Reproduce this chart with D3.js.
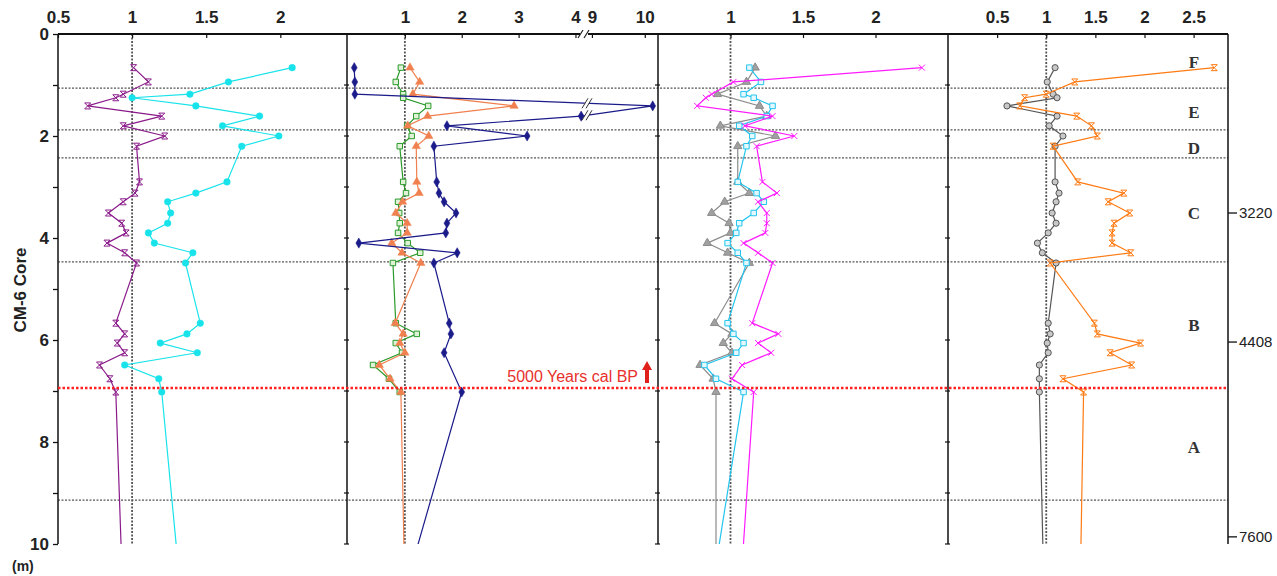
<!DOCTYPE html>
<html>
<head>
<meta charset="utf-8">
<script src="https://cdn.jsdelivr.net/npm/d3@7"></script>
<style>
  body { margin: 0; background: #fff; }
  svg { font-family: Arial, "Liberation Sans", sans-serif; }
</style>
</head>
<body>
<script>
// sample depths (m) shared by all series, last one sits below the plotted 10 m
const depths = [0.66, 0.94, 1.18, 1.25, 1.41, 1.61, 1.80, 2.00, 2.20, 2.90, 3.12, 3.29, 3.51,
  3.71, 3.90, 4.10, 4.29, 4.49, 5.67, 5.88, 6.06, 6.25, 6.49, 6.76, 7.02, 10.4];

// panel 1
const purpleVals = [1.01, 1.11, 0.94, 0.89, 0.70, 1.20, 0.94, 1.22, 1.03, 1.05, 1.02, 0.94, 0.84,
  0.93, 0.96, 0.83, 0.95, 1.03, 0.89, 0.95, 0.90, 0.95, 0.78, 0.85, 0.89, 0.93];
const cyanVals = [2.08, 1.65, 1.39, 1.00, 1.43, 1.86, 1.61, 1.99, 1.74, 1.64, 1.43, 1.24, 1.26,
  1.24, 1.11, 1.15, 1.41, 1.36, 1.46, 1.37, 1.19, 1.44, 0.95, 1.18, 1.20, 1.31];
// panel 2
const navyVals = [0.11, 0.12, 0.12, null, 10.15, 4.1, 1.74, 3.15, 1.51, 1.56, 1.60, 1.69, 1.90,
  1.74, 1.72, 0.19, 1.92, 1.51, 1.78, 1.81, null, 1.69, null, null, 2.00, 1.13];
const greenVals = [0.93, 0.84, 0.97, 0.97, 1.41, 1.20, 1.04, 1.12, 0.91, 0.97, 1.02, 0.88, 0.90,
  0.91, 0.88, 1.05, 1.27, 0.79, 0.84, 1.21, 0.84, 0.95, 0.44, 0.72, 0.91, null];
const salmonVals = [1.09, 1.26, 1.14, null, 2.92, 1.40, 1.05, 1.42, 1.20, 1.21, 1.25, 0.96, 0.84,
  1.04, 1.04, 0.77, 0.95, 1.28, 0.83, 0.97, 0.91, 1.00, 0.55, 0.74, 0.93, 0.99];
// panel 3
const magentaVals = [2.32, 1.02, 0.87, 0.83, 0.77, 1.29, 1.10, 1.44, 1.18, 1.22, 1.32, 1.19, 1.25,
  1.25, 1.24, 1.09, 1.19, 1.29, 1.15, 1.33, 1.19, 1.28, 1.08, 1.01, 1.16, 1.08];
const skyVals = [1.13, 1.21, 1.09, 1.16, 1.29, 1.25, 1.06, 1.15, 1.11, 1.05, 1.18, 1.23, 1.16,
  1.06, 1.04, 0.98, 1.05, 1.11, 0.98, 1.02, 1.09, 1.04, 0.82, 0.90, 1.09, 0.90];
const greyTriVals = [1.17, 1.11, 0.91, null, 1.20, 1.25, 0.93, 1.31, 1.05, 1.05, 1.13, 0.96, 0.87,
  0.99, 1.00, 0.84, 0.98, 1.13, 0.89, 1.01, 0.95, 1.01, 0.79, 0.88, 0.90, 0.90];
// panel 4
const orangeVals = [2.71, 1.29, 1.00, 0.78, 0.73, 1.31, 1.46, 1.52, 1.07, 1.32, 1.79, 1.63, 1.85,
  1.69, 1.67, 1.67, 1.86, 1.04, 1.49, 1.52, 1.96, 1.65, 1.87, 1.17, 1.38, 1.35];
const greyCircVals = [1.09, 1.01, 1.07, 1.11, 0.60, 1.11, 1.03, 1.17, 1.09, 1.09, 1.13, 1.10, 1.06,
  1.10, 1.02, 0.91, 0.96, 1.10, 1.02, 1.04, 1.01, 1.02, 0.93, 0.93, 0.93, 0.97];

// top axis tick labels per panel
const ticks1 = [0.5, 1, 1.5, 2];
const ticks2 = [1, 2, 3, 4, 9, 10];
const ticks3 = [1, 1.5, 2];
const ticks4 = [0.5, 1, 1.5, 2, 2.5];

// zones
const zoneBounds = [1.06, 1.88, 2.43, 4.47, 9.14];
const zoneNames = ['F', 'E', 'D', 'C', 'B', 'A'];
const zoneLabelDepths = [0.55, 1.53, 2.24, 3.51, 5.71, 8.1];
const markerDepth = 6.94;
const ageDepths = [3.51, 6.04, 9.86];
const ageLabels = ['3220', '4408', '7600'];

const W = 1277, H = 576;
const plotTop = 34, plotBottom = 544;
const frames = [58, 347, 658, 948, 1228];

const y = d3.scaleLinear().domain([0, 10]).range([plotTop, plotBottom]);

const panels = [
  { x: d3.scaleLinear().domain([0.5, 2.45]).range([58, 347]), left: 58, right: 347, ticks: ticks1,
    series: [
      { vals: purpleVals, color: '#8a1a8a', marker: 'bowtie' },
      { vals: cyanVals, color: '#19e3ea', marker: 'circle', fill: '#19e3ea' }
    ] },
  { x: d3.scaleLinear().domain([0, 4.15, 8.85, 10.25]).range([348, 584, 584, 658]), left: 347, right: 658, ticks: ticks2,
    series: [
      { vals: greenVals, color: '#2a9a2a', marker: 'square', fill: '#dff2d8' },
      { vals: salmonVals, color: '#f0804f', marker: 'triangle', fill: '#f0804f' },
      { vals: navyVals, color: '#1b1b8a', marker: 'diamond', fill: '#1b1b8a' }
    ] },
  { x: d3.scaleLinear().domain([0.5, 2.5]).range([658, 948]), left: 658, right: 948, ticks: ticks3,
    series: [
      { vals: greyTriVals, color: '#8c8c8c', marker: 'triangle', fill: '#a0a0a0' },
      { vals: skyVals, color: '#22c4ee', marker: 'square', fill: '#e4f8ff' },
      { vals: magentaVals, color: '#ff1aff', marker: 'cross' }
    ] },
  { x: d3.scaleLinear().domain([0, 2.85]).range([948, 1228]), left: 948, right: 1228, ticks: ticks4,
    series: [
      { vals: greyCircVals, color: '#555', marker: 'ring', fill: '#c8c8c8' },
      { vals: orangeVals, color: '#ff7a12', marker: 'bowtie' }
    ] }
];

const svg = d3.select('body').append('svg')
  .attr('width', W)
  .attr('height', H);

function markerPath (type) {
  if (type === 'circle') return d3.symbol(d3.symbolCircle, 34)();
  if (type === 'ring') return d3.symbol(d3.symbolCircle, 30)();
  if (type === 'diamond') return d3.symbol(d3.symbolDiamond, 30)();
  if (type === 'square') return d3.symbol(d3.symbolSquare, 30)();
  if (type === 'triangle') return d3.symbol(d3.symbolTriangle, 30)();
  if (type === 'cross') return 'M-3,-3L3,3M3,-3L-3,3';
  return 'M-3,-3L3,-3M-3,3L3,3M-3,-3L3,3M3,-3L-3,3';
}

// horizontal zone boundaries
svg.append('g').selectAll('line')
  .data(zoneBounds)
  .enter().append('line')
  .attr('x1', frames[0]).attr('x2', frames[4])
  .attr('y1', d => y(d)).attr('y2', d => y(d))
  .attr('stroke', '#555')
  .attr('stroke-width', 1.3)
  .attr('stroke-dasharray', '2,1.5');

// x = 1 reference lines
svg.append('g').selectAll('line')
  .data(panels)
  .enter().append('line')
  .attr('x1', p => p.x(1)).attr('x2', p => p.x(1))
  .attr('y1', plotTop).attr('y2', plotBottom)
  .attr('stroke', '#555')
  .attr('stroke-width', 1.8)
  .attr('stroke-dasharray', '2,1.5');

// series
panels.forEach((p, i) => {
  const clipId = `clip-${i}`;
  svg.append('clipPath').attr('id', clipId)
    .append('rect')
    .attr('x', p.left).attr('y', plotTop - 6)
    .attr('width', p.right - p.left).attr('height', plotBottom - plotTop + 6);

  const g = svg.append('g').attr('clip-path', `url(#${clipId})`);

  p.series.forEach(s => {
    const pts = depths.map((d, k) => ({ d: d, v: s.vals[k] })).filter(o => o.v !== null);
    const line = d3.line().x(o => p.x(o.v)).y(o => y(o.d));

    g.append('path')
      .datum(pts)
      .attr('d', line)
      .attr('fill', 'none')
      .attr('stroke', s.color)
      .attr('stroke-width', 1.2);

    g.selectAll(null)
      .data(pts.filter(o => o.d <= 10))
      .enter().append('path')
      .attr('transform', o => `translate(${p.x(o.v)},${y(o.d)})`)
      .attr('d', markerPath(s.marker))
      .attr('fill', s.fill || 'none')
      .attr('stroke', s.color)
      .attr('stroke-width', s.fill && s.fill === s.color ? 0.5 : 1);

    // scale break marks where a segment jumps across the broken axis
    if (i === 1) {
      for (let k = 1; k < pts.length; k++) {
        const a = pts[k - 1], b = pts[k];
        const lo = Math.min(a.v, b.v), hi = Math.max(a.v, b.v);
        if (lo < 4.15 && hi > 8.85) {
          const xa = p.x(a.v), xb = p.x(b.v);
          const bx = 587;
          const by = y(a.d) + (y(b.d) - y(a.d)) * (bx - xa) / (xb - xa);
          appendBreak(g, bx, by);
        }
      }
    }
  });
});

function appendBreak (g, bx, by) {
  g.append('path')
    .attr('d', `M${bx - 5},${by + 5}L${bx + 1},${by - 5}L${bx + 5},${by - 5}L${bx - 1},${by + 5}Z`)
    .attr('fill', '#fff');
  g.append('path')
    .attr('d', `M${bx - 5},${by + 5}L${bx + 1},${by - 5}M${bx - 1},${by + 5}L${bx + 5},${by - 5}`)
    .attr('stroke', '#333')
    .attr('stroke-width', 1);
}

// frames
svg.append('g').selectAll('line')
  .data(frames)
  .enter().append('line')
  .attr('x1', d => d).attr('x2', d => d)
  .attr('y1', plotTop).attr('y2', plotBottom)
  .attr('stroke', '#111')
  .attr('stroke-width', 1.5);

// small depth ticks on the inner frames
const meterTicks = d3.range(0, 11);
[frames[1], frames[2], frames[3]].forEach(fx => {
  svg.append('g').selectAll('line')
    .data(meterTicks)
    .enter().append('line')
    .attr('x1', fx - 3).attr('x2', fx + 2)
    .attr('y1', d => y(d)).attr('y2', d => y(d))
    .attr('stroke', '#111')
    .attr('stroke-width', 1.2);
});

// top axis line
svg.append('line')
  .attr('x1', frames[0]).attr('x2', frames[4])
  .attr('y1', plotTop).attr('y2', plotTop)
  .attr('stroke', '#111')
  .attr('stroke-width', 2);

// top axes
panels.forEach(p => {
  const ax = svg.append('g')
    .attr('transform', `translate(0,${plotTop})`)
    .call(d3.axisTop(p.x).tickValues(p.ticks).tickFormat(d => String(d)).tickSize(-4).tickPadding(11));
  ax.select('.domain').remove();
  ax.selectAll('.tick line').attr('stroke', '#111').attr('stroke-width', 1.2);
  ax.selectAll('text')
    .attr('font-size', 17)
    .attr('font-weight', 'bold')
    .attr('font-family', 'Arial, "Liberation Sans", sans-serif')
    .attr('fill', '#222');
});

// break on the top axis of panel 2
svg.append('rect')
  .attr('x', 580).attr('y', plotTop - 3).attr('width', 8).attr('height', 6)
  .attr('fill', '#fff');
svg.append('path')
  .attr('d', `M578,${plotTop + 4}L583,${plotTop - 4}M584,${plotTop + 4}L589,${plotTop - 4}`)
  .attr('stroke', '#222')
  .attr('stroke-width', 1.2);

// left depth axis
const left = svg.append('g')
  .attr('transform', `translate(${frames[0]},0)`)
  .call(d3.axisLeft(y).tickValues(meterTicks).tickFormat(d => d % 2 === 0 ? d : '').tickSize(5).tickPadding(4));
left.select('.domain').remove();
left.selectAll('.tick line').attr('stroke', '#111').attr('stroke-width', 1.3);
left.selectAll('text')
  .attr('font-size', 17)
  .attr('font-weight', 'bold')
  .attr('font-family', 'Arial, "Liberation Sans", sans-serif')
  .attr('fill', '#222');

// 5000 yr marker
svg.append('line')
  .attr('x1', frames[0]).attr('x2', frames[4])
  .attr('y1', y(markerDepth)).attr('y2', y(markerDepth))
  .attr('stroke', '#ff2020')
  .attr('stroke-width', 2.6)
  .attr('stroke-dasharray', '2.5,2');

svg.append('text')
  .attr('x', 638)
  .attr('y', y(markerDepth) - 6)
  .attr('text-anchor', 'end')
  .attr('font-size', 16)
  .attr('fill', '#e8302c')
  .text('5000 Years cal BP');

const ax0 = 647, ay0 = y(markerDepth) - 5;
svg.append('path')
  .attr('d', `M${ax0 - 2},${ay0}L${ax0 + 2},${ay0}L${ax0 + 2},${ay0 - 13}L${ax0 + 5},${ay0 - 13}L${ax0},${ay0 - 22}L${ax0 - 5},${ay0 - 13}L${ax0 - 2},${ay0 - 13}Z`)
  .attr('fill', '#e0201b');

// zone letters
svg.append('g').selectAll('text')
  .data(zoneNames)
  .enter().append('text')
  .attr('x', 1194)
  .attr('y', (d, k) => y(zoneLabelDepths[k]) + 6)
  .attr('text-anchor', 'middle')
  .attr('font-family', '"Liberation Serif", "DejaVu Serif", serif')
  .attr('font-weight', 'bold')
  .attr('font-size', 17)
  .attr('fill', '#333')
  .text(d => d);

// ages on the right
const ages = svg.append('g');
ages.selectAll('line')
  .data(ageDepths)
  .enter().append('line')
  .attr('x1', frames[4]).attr('x2', frames[4] + 9)
  .attr('y1', d => y(d)).attr('y2', d => y(d))
  .attr('stroke', '#111')
  .attr('stroke-width', 1.3);
ages.selectAll('text')
  .data(ageLabels)
  .enter().append('text')
  .attr('x', frames[4] + 11)
  .attr('y', (d, k) => y(ageDepths[k]))
  .attr('dy', '0.35em')
  .attr('font-size', 15)
  .attr('fill', '#222')
  .text(d => d);

// axis titles
svg.append('text')
  .attr('transform', 'translate(20,290) rotate(-90)')
  .attr('text-anchor', 'middle')
  .attr('dy', '0.35em')
  .attr('font-size', 17)
  .attr('font-weight', 'bold')
  .attr('fill', '#222')
  .text('CM-6 Core');

svg.append('text')
  .attr('x', 12)
  .attr('y', 571)
  .attr('font-size', 14)
  .attr('font-weight', 'bold')
  .attr('fill', '#222')
  .text('(m)');
</script>
</body>
</html>
